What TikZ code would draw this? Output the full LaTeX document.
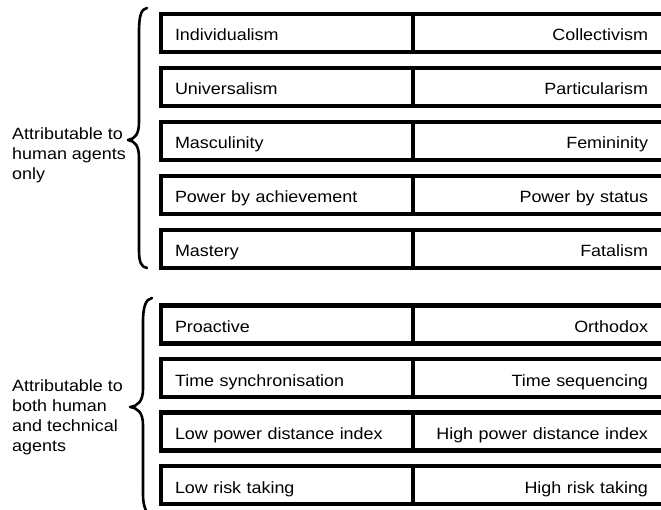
\documentclass[tikz,border=0pt]{standalone}
\usepackage{fontspec}
\setmainfont{Liberation Sans}[FakeStretch=1.1]
\begin{document}
\begin{tikzpicture}[x=1pt,y=-1pt,
  txt/.style={font=\fontsize{16.3}{19.8}\selectfont},
  cell/.style={txt, draw, line width=4.2pt, line join=miter, rectangle, outer sep=0pt,
    inner ysep=0pt, minimum height=38pt, text height=18pt, text depth=2pt, anchor=north west},
  leftcell/.style={cell, text width=224pt, inner xsep=14pt, align=left},
  rightcell/.style={cell, text width=219pt, inner xsep=16pt, align=right},
  lbl/.style={txt, anchor=base west, inner sep=0pt},
  bracepath/.style={line width=2.6pt, line cap=round, line join=round}]
\useasboundingbox (0,0) rectangle (661,510);
\clip (0,0) rectangle (661,510);
% upper group
\node[leftcell]  (a1) at (161,14)  {Individualism};
\node[rightcell] (b1) at (413,14)  {Collectivism};
\node[leftcell]  (a2) at (161,68)  {Universalism};
\node[rightcell] (b2) at (413,68)  {Particularism};
\node[leftcell]  (a3) at (161,122) {Masculinity};
\node[rightcell] (b3) at (413,122) {Femininity};
\node[leftcell]  (a4) at (161,176) {Power by achievement};
\node[rightcell] (b4) at (413,176) {Power by status};
\node[leftcell]  (a5) at (161,230) {Mastery};
\node[rightcell] (b5) at (413,230) {Fatalism};
% lower group
\node[leftcell]  (c1) at (161,305.5) {Proactive};
\node[rightcell] (d1) at (413,305.5) {Orthodox};
\node[leftcell]  (c2) at (161,359)   {Time synchronisation};
\node[rightcell] (d2) at (413,359)   {Time sequencing};
\node[leftcell]  (c3) at (161,412.5) {Low power distance index};
\node[rightcell] (d3) at (413,412.5) {High power distance index};
\node[leftcell]  (c4) at (161,466)   {Low risk taking};
\node[rightcell] (d4) at (413,466)   {High risk taking};
% labels
\node[lbl] (u1) at (12,140)   {Attributable to};
\node[lbl] (u2) at (12,159.8) {human agents};
\node[lbl] (u3) at (12,179.6) {only};
\node[lbl] (l1) at (12,391.8) {Attributable to};
\node[lbl] (l2) at (12,411.6) {both human};
\node[lbl] (l3) at (12,431.4) {and technical};
\node[lbl] (l4) at (12,451.2) {agents};
% braces
\draw[bracepath] (147,8) .. controls (141,9) and (139,16) .. (139,32)
  -- (139,122) .. controls (139,134) and (135,139) .. (128,140)
  .. controls (135,141) and (139,146) .. (139,158)
  -- (139,250) .. controls (139,262) and (141,267) .. (147,268);
\draw[bracepath] (152,298) .. controls (146,299) and (143,306) .. (143,322)
  -- (143,389) .. controls (143,401) and (138,406) .. (130,407)
  .. controls (138,408) and (143,413) .. (143,425)
  -- (143,494) .. controls (143,506) and (146,514) .. (152,516);
\end{tikzpicture}
\end{document}
